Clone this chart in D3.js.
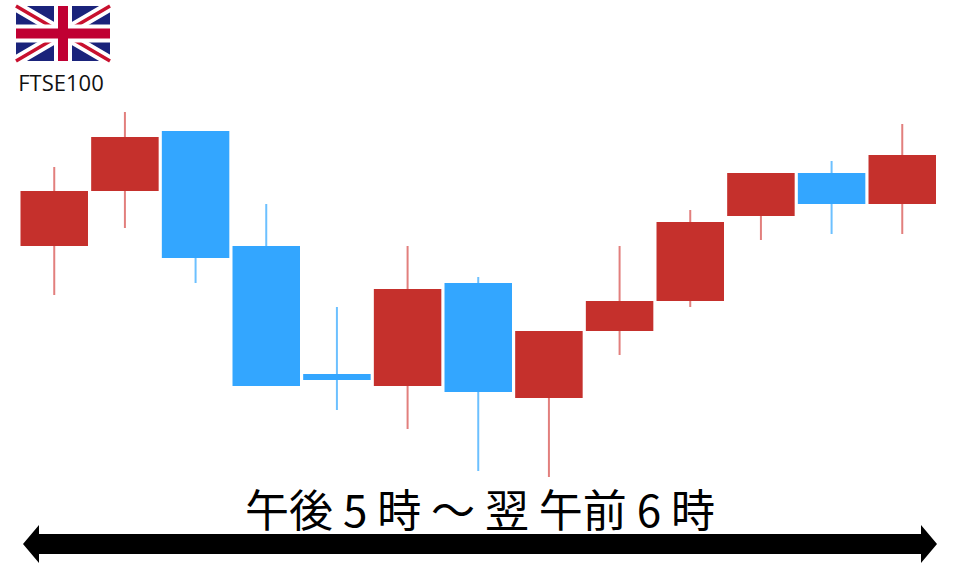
<!DOCTYPE html>
<html><head><meta charset="utf-8">
<style>html,body{margin:0;padding:0;background:#fff}svg{display:block}</style>
<script src="https://cdn.jsdelivr.net/npm/d3@7"></script></head><body>
<svg id="c" width="960" height="567"></svg>
<script>
const sessions=["1","2","3","4","5","6","7","8","9","10","11","12","13"];
const opens =[321,376,436,321,193,181,284,169,236,266,351,394,363];
const closes=[376,430,309,181,187,278,175,236,266,345,394,363,412];
const highs =[400,455,436,363,260,321,290,236,321,357,394,406,443];
const lows  =[272,339,284,181,157,138,96,90,212,260,327,333,333];
const title="FTSE100";
const caption=["午後","5","時","〜","翌","午前","6","時"];
const W=960,H=567;
const svg=d3.select("#c");
const x=d3.scaleBand().domain(sessions).range([20.5,936]).paddingInner(0.045).paddingOuter(0);
const y=d3.scaleLinear().domain([0,567]).range([567,0]);
const RED="#c5302c",BLUE="#33a6ff",REDW="#e27f7d",BLUEW="#6cc0ff";
const idx=d3.range(sessions.length);
const isUp=i=>closes[i]>=opens[i];
svg.append("g").selectAll("line").data(idx).join("line")
 .attr("x1",i=>x(sessions[i])+x.bandwidth()/2).attr("x2",i=>x(sessions[i])+x.bandwidth()/2)
 .attr("y1",i=>y(highs[i])).attr("y2",i=>y(lows[i]))
 .attr("stroke",i=>isUp(i)?REDW:BLUEW).attr("stroke-width",2);
svg.append("g").selectAll("rect").data(idx).join("rect")
 .attr("x",i=>x(sessions[i])).attr("width",x.bandwidth())
 .attr("y",i=>y(Math.max(opens[i],closes[i])))
 .attr("height",i=>Math.abs(y(opens[i])-y(closes[i])))
 .attr("fill",i=>isUp(i)?RED:BLUE);
// flag
const f=svg.append("g").attr("transform","translate(16,6)");
const fw=94,fh=55;
f.append("rect").attr("width",fw).attr("height",fh).attr("fill","#1a237b");
f.append("path").attr("d",`M0,0L${fw},${fh}M${fw},0L0,${fh}`).attr("stroke","#fff").attr("stroke-width",11);
f.append("path").attr("d",`M0,0L${fw/2},${fh/2}M${fw},${fh}L${fw/2},${fh/2}M${fw},0L${fw/2},${fh/2}M0,${fh}L${fw/2},${fh/2}`).attr("stroke","#c8102e").attr("stroke-width",3.5);
f.append("rect").attr("x",fw/2-9).attr("width",18).attr("height",fh).attr("fill","#fff");
f.append("rect").attr("y",fh/2-9).attr("width",fw).attr("height",18).attr("fill","#fff");
f.append("rect").attr("x",fw/2-5).attr("width",10).attr("height",fh).attr("fill","#c00033");
f.append("rect").attr("y",fh/2-5).attr("width",fw).attr("height",10).attr("fill","#c00033");
svg.append("text").attr("x",61).attr("y",91).attr("text-anchor","middle")
 .attr("font-family","'Open Sans','DejaVu Sans',sans-serif").attr("font-size",22).attr("fill","#111").text(title);
// caption
const cx=[276,338,374,396,451,507,546,651,687].slice(0);
const t=svg.append("text").attr("x",480).attr("y",527).attr("text-anchor","middle")
 .attr("font-family","'Noto Sans CJK JP',sans-serif").attr("font-size",44).attr("fill","#000");
t.text(caption[0]+" "+caption[1]+" "+caption[2]+" "+caption[3]+" "+caption[4]+" "+caption[5]+" "+caption[6]+" "+caption[7]);
// arrow
const ay=544,hx=29,hh=19,sh=10;
svg.append("path").attr("d",`M23,${ay}L${23+hx-13},${ay-hh}V${ay-sh}H${937-hx+13}V${ay-hh}L937,${ay}L${937-hx+13},${ay+hh}V${ay+sh}H${23+hx-13}V${ay+hh}Z`).attr("fill","#000");
</script></body></html>
